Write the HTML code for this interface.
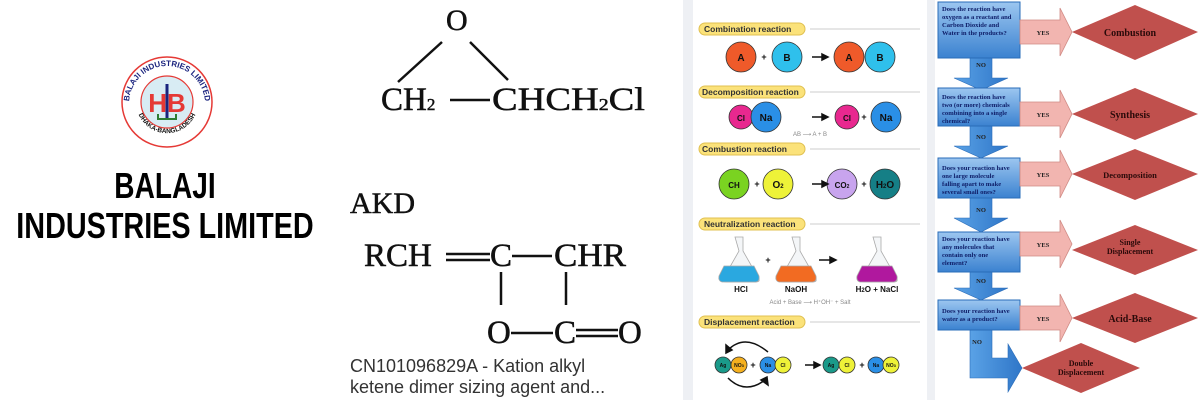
<!DOCTYPE html>
<html><head><meta charset="utf-8"><style>
body{margin:0;background:#fff}
svg{display:block}
.ss{font-family:"Liberation Sans",sans-serif}
.sf{font-family:"Liberation Serif",serif}
</style></head><body>
<svg width="1200" height="400" viewBox="0 0 1200 400" xmlns="http://www.w3.org/2000/svg">
<defs>
<path id="top" d="M129,104 A38,38 0 0 1 205,104"/>
<path id="bot" d="M137,110 A31,31 0 0 0 197,110"/>
<linearGradient id="bx" x1="0" y1="0" x2="0" y2="1"><stop offset="0" stop-color="#9cc6f0"/><stop offset="1" stop-color="#3b82d0"/></linearGradient>
<linearGradient id="ar" x1="0" y1="0" x2="1" y2="0"><stop offset="0" stop-color="#5aa2e6"/><stop offset="1" stop-color="#2f76c8"/></linearGradient>
</defs>
<rect width="1200" height="400" fill="#fff"/>
<!-- Logo -->
<circle cx="167" cy="102" r="45" fill="#fff" stroke="#e53935" stroke-width="1.5"/>
<circle cx="167" cy="102" r="26" fill="#d8ecf4" stroke="#e53935" stroke-width="1.2"/>
<text class="ss" font-size="8" font-weight="bold" fill="#1a237e"><textPath href="#top" startOffset="50%" text-anchor="middle">BALAJI INDUSTRIES LIMITED</textPath></text>
<text class="ss" font-size="6.5" font-weight="bold" fill="#111"><textPath href="#bot" startOffset="50%" text-anchor="middle">DHAKA-BANGLADESH</textPath></text>
<text x="167" y="112" class="ss" font-size="26" font-weight="bold" fill="#e53935" text-anchor="middle">HB</text>
<line x1="167" y1="84" x2="167" y2="120" stroke="#1a237e" stroke-width="3"/>
<path d="M158,114 v5 h18 v-5" fill="none" stroke="#2e7d32" stroke-width="2"/>
<text x="165" y="198" class="ss" font-size="36" font-weight="bold" text-anchor="middle" transform="translate(165 0) scale(0.78 1) translate(-165 0)">BALAJI</text>
<text x="165" y="238" class="ss" font-size="36" font-weight="bold" text-anchor="middle" transform="translate(165 0) scale(0.8 1) translate(-165 0)">INDUSTRIES LIMITED</text>
<!-- Chemistry -->
<g class="sf" fill="#111" stroke="#111" stroke-width="0.5">
<text x="446" y="30" font-size="30">O</text>
<line x1="398" y1="82" x2="442" y2="42" stroke-width="2.5"/>
<line x1="470" y1="42" x2="508" y2="80" stroke-width="2.5"/>
<text x="381" y="110" font-size="33">CH<tspan font-size="17">2</tspan></text>
<line x1="450" y1="100" x2="490" y2="100" stroke-width="2.5"/>
<text x="492" y="110" font-size="33" textLength="153" lengthAdjust="spacingAndGlyphs">CHCH<tspan font-size="17">2</tspan>Cl</text>
<text x="350" y="213" font-size="30">AKD</text>
<text x="364" y="266" font-size="33">RCH</text>
<line x1="446" y1="254" x2="490" y2="254" stroke-width="2.5"/>
<line x1="446" y1="260" x2="490" y2="260" stroke-width="2.5"/>
<text x="490" y="266" font-size="33">C</text>
<line x1="512" y1="256" x2="552" y2="256" stroke-width="2.5"/>
<text x="554" y="266" font-size="33" textLength="72" lengthAdjust="spacingAndGlyphs">CHR</text>
<line x1="501" y1="272" x2="501" y2="305" stroke-width="2.5"/>
<line x1="566" y1="272" x2="566" y2="305" stroke-width="2.5"/>
<text x="487" y="343" font-size="33">O</text>
<line x1="511" y1="333" x2="553" y2="333" stroke-width="2.5"/>
<text x="554" y="343" font-size="33">C</text>
<line x1="576" y1="330" x2="618" y2="330" stroke-width="2.5"/>
<line x1="576" y1="336" x2="618" y2="336" stroke-width="2.5"/>
<text x="618" y="343" font-size="33">O</text>
</g>
<text x="350" y="372" class="ss" font-size="18" fill="#333">CN101096829A - Kation alkyl</text>
<text x="350" y="393" class="ss" font-size="18" fill="#333">ketene dimer sizing agent and...</text>
<!-- middle panel -->
<rect x="683" y="0" width="10" height="400" fill="#eef0f4"/>
<rect x="927" y="0" width="8" height="400" fill="#eef0f4"/>
<g class="ss" font-weight="bold">
<g font-size="8.5" fill="#333">
<rect x="699" y="23" width="106" height="12" rx="6" fill="#fbe27a" stroke="#e0c050"/><text x="704" y="32">Combination reaction</text>
<rect x="699" y="86" width="106" height="12" rx="6" fill="#fbe27a" stroke="#e0c050"/><text x="702" y="95">Decomposition reaction</text>
<rect x="699" y="143" width="106" height="12" rx="6" fill="#fbe27a" stroke="#e0c050"/><text x="702" y="152">Combustion reaction</text>
<rect x="699" y="218" width="106" height="12" rx="6" fill="#fbe27a" stroke="#e0c050"/><text x="704" y="227">Neutralization reaction</text>
<rect x="699" y="316" width="106" height="12" rx="6" fill="#fbe27a" stroke="#e0c050"/><text x="704" y="325">Displacement reaction</text>
</g>
<g stroke="#ccc" stroke-width="1"><line x1="810" y1="29" x2="920" y2="29"/><line x1="810" y1="92" x2="920" y2="92"/><line x1="810" y1="149" x2="920" y2="149"/><line x1="810" y1="224" x2="920" y2="224"/><line x1="810" y1="322" x2="920" y2="322"/></g>
<g stroke="#333" stroke-width="0.8" font-size="9" fill="#111" text-anchor="middle">
<circle cx="741" cy="57" r="15" fill="#ef5a2a"/><circle cx="787" cy="57" r="15" fill="#2fc0ec"/>
<circle cx="849" cy="57" r="15" fill="#ef5a2a"/><circle cx="880" cy="57" r="15" fill="#2fc0ec"/>
<circle cx="741" cy="117" r="12" fill="#e8288f"/><circle cx="766" cy="117" r="15" fill="#2a8fe6"/>
<circle cx="847" cy="117" r="12" fill="#e8288f"/><circle cx="886" cy="117" r="15" fill="#2a8fe6"/>
<circle cx="734" cy="184" r="15" fill="#7ad321"/><circle cx="778" cy="184" r="15" fill="#eef238"/>
<circle cx="842" cy="184" r="15" fill="#c8a4ee"/><circle cx="885" cy="184" r="15" fill="#157f86"/>
<circle cx="723" cy="365" r="8" fill="#1a9a8a"/><circle cx="739" cy="365" r="8" fill="#f5b01e"/>
<circle cx="768" cy="365" r="8" fill="#2a8fe6"/><circle cx="783" cy="365" r="8" fill="#eef238"/>
<circle cx="831" cy="365" r="8" fill="#1a9a8a"/><circle cx="847" cy="365" r="8" fill="#eef238"/>
<circle cx="876" cy="365" r="8" fill="#2a8fe6"/><circle cx="891" cy="365" r="8" fill="#eef238"/>
</g>
<g font-size="10" fill="#111" text-anchor="middle">
<text x="741" y="61">A</text><text x="787" y="61">B</text><text x="849" y="61">A</text><text x="880" y="61">B</text>
<text x="741" y="121" font-size="8">Cl</text><text x="766" y="121">Na</text><text x="847" y="121" font-size="8">Cl</text><text x="886" y="121">Na</text>
<text x="734" y="188" font-size="8">CH</text><text x="778" y="188">O<tspan font-size="6">2</tspan></text>
<text x="842" y="188" font-size="8">CO<tspan font-size="5">2</tspan></text><text x="885" y="188">H<tspan font-size="6">2</tspan>O</text>
<g font-size="5"><text x="723" y="367">Ag</text><text x="739" y="367">NO<tspan font-size="4">3</tspan></text><text x="768" y="367">Na</text><text x="783" y="367">Cl</text>
<text x="831" y="367">Ag</text><text x="847" y="367">Cl</text><text x="876" y="367">Na</text><text x="891" y="367">NO<tspan font-size="4">3</tspan></text></g>
<text x="764" y="60" font-size="9">+</text><text x="864" y="120" font-size="9">+</text><text x="757" y="187" font-size="9">+</text><text x="864" y="187" font-size="9">+</text>
<text x="768" y="263" font-size="9">+</text><text x="753" y="368" font-size="9">+</text><text x="862" y="368" font-size="9">+</text>
<text x="741" y="292" font-size="8">HCl</text><text x="796" y="292" font-size="8">NaOH</text><text x="877" y="292" font-size="8">H<tspan font-size="6">2</tspan>O + NaCl</text>
</g>
<g font-weight="normal" font-size="6" fill="#888" text-anchor="middle"><text x="810" y="136">AB ⟶ A + B</text><text x="810" y="304">Acid + Base ⟶ H⁺OH⁻ + Salt</text></g>
</g>
<g stroke="#111" stroke-width="1.5" fill="#111">
<line x1="812" y1="57" x2="824" y2="57"/><path d="M822,54 l6,3 -6,3z"/>
<line x1="812" y1="117" x2="824" y2="117"/><path d="M822,114 l6,3 -6,3z"/>
<line x1="812" y1="184" x2="824" y2="184"/><path d="M822,181 l6,3 -6,3z"/>
<line x1="819" y1="260" x2="832" y2="260"/><path d="M830,257 l6,3 -6,3z"/>
<line x1="805" y1="365" x2="816" y2="365"/><path d="M814,362 l6,3 -6,3z"/>
<path d="M768,352 Q745,333 728,350" fill="none"/><path d="M726,345 l0,8 6,-3z"/>
<path d="M728,378 Q745,395 765,380" fill="none"/><path d="M768,385 l-1,-8 -6,3z"/>
</g>
<g stroke="#aaa" stroke-width="0.8">
<path d="M735,237 h8 v14 l16,28 q1,3 -3,3 h-30 q-4,0 -3,-3 l16,-28z" fill="#f4f6f8"/>
<path d="M724,266 h30 l5,10 q1,5 -3,6 h-34 q-4,-1 -3,-6z" fill="#2aa8e0"/>
<path d="M792,237 h8 v14 l16,28 q1,3 -3,3 h-30 q-4,0 -3,-3 l16,-28z" fill="#f4f6f8"/>
<path d="M781,266 h30 l5,10 q1,5 -3,6 h-34 q-4,-1 -3,-6z" fill="#f26b22"/>
<path d="M873,237 h8 v14 l16,28 q1,3 -3,3 h-30 q-4,0 -3,-3 l16,-28z" fill="#f4f6f8"/>
<path d="M862,266 h30 l5,10 q1,5 -3,6 h-34 q-4,-1 -3,-6z" fill="#b0189e"/>
</g>
<!-- flowchart -->
<g fill="url(#ar)" stroke="#2a6cb8" stroke-width="0.6">
<path d="M970,58 h22 v20 h16 l-27,12 -27,-12 h16z"/>
<path d="M970,126 h22 v20 h16 l-27,12 -27,-12 h16z"/>
<path d="M970,196 h22 v22 h16 l-27,14 -27,-14 h16z"/>
<path d="M970,272 h22 v16 h16 l-27,12 -27,-12 h16z"/>
<path d="M970,330 h22 v28 h16 v-14 l14,24 -14,24 v-14 h-38z"/>
</g>
<g fill="url(#bx)" stroke="#2a6cb8" stroke-width="1">
<rect x="938" y="2" width="82" height="56"/><rect x="938" y="88" width="82" height="38"/>
<rect x="938" y="158" width="82" height="40"/><rect x="938" y="232" width="82" height="40"/>
<rect x="938" y="300" width="82" height="30"/>
</g>
<g fill="#f2b5b0" stroke="#d08a84" stroke-width="0.8">
<path d="M1020,20 h40 v-12 l12,24 -12,24 v-12 h-40z"/>
<path d="M1020,102 h40 v-12 l12,24 -12,24 v-12 h-40z"/>
<path d="M1020,162 h40 v-12 l12,24 -12,24 v-12 h-40z"/>
<path d="M1020,232 h40 v-12 l12,24 -12,24 v-12 h-40z"/>
<path d="M1020,306 h40 v-12 l12,24 -12,24 v-12 h-40z"/>
</g>
<g fill="#c0504d">
<path d="M1072,32 L1135,5 1198,32 1135,60z"/>
<path d="M1072,114 L1135,88 1198,114 1135,140z"/>
<path d="M1072,174 L1135,149 1198,174 1135,200z"/>
<path d="M1072,250 L1135,225 1198,250 1135,275z"/>
<path d="M1072,318 L1135,293 1198,318 1135,343z"/>
<path d="M1022,368 L1081,343 1140,368 1081,393z"/>
</g>
<g class="sf" font-weight="bold" fill="#1a1a1a">
<g font-size="6.6" fill="#10206a">
<text x="942" y="11">Does the reaction have</text><text x="942" y="19">oxygen as a reactant and</text><text x="942" y="27">Carbon Dioxide and</text><text x="942" y="35">Water in the products?</text>
<text x="942" y="99">Does the reaction have</text><text x="942" y="107">two (or more) chemicals</text><text x="942" y="115">combining into a single</text><text x="942" y="123">chemical?</text>
<text x="942" y="170">Does your reaction have</text><text x="942" y="178">one large molecule</text><text x="942" y="186">falling apart to make</text><text x="942" y="194">several small ones?</text>
<text x="942" y="241">Does your reaction have</text><text x="942" y="249">any molecules that</text><text x="942" y="257">contain only one</text><text x="942" y="265">element?</text>
<text x="942" y="313">Does your reaction have</text><text x="942" y="321">water as a product?</text>
</g>
<g font-size="6.5" fill="#222" text-anchor="middle">
<text x="981" y="67">NO</text><text x="981" y="139">NO</text><text x="981" y="212">NO</text><text x="981" y="283">NO</text><text x="977" y="344">NO</text>
<text x="1043" y="35">YES</text><text x="1043" y="117">YES</text><text x="1043" y="177">YES</text><text x="1043" y="247">YES</text><text x="1043" y="321">YES</text>
</g>
<g text-anchor="middle" fill="#2a0a0a">
<text x="1130" y="36" font-size="10">Combustion</text>
<text x="1130" y="118" font-size="10">Synthesis</text>
<text x="1130" y="178" font-size="8.5">Decomposition</text>
<text x="1130" y="245" font-size="8">Single</text><text x="1130" y="254" font-size="8">Displacement</text>
<text x="1130" y="322" font-size="10">Acid-Base</text>
<text x="1081" y="366" font-size="8">Double</text><text x="1081" y="375" font-size="8">Displacement</text>
</g>
</g>
</svg>
</body></html>
